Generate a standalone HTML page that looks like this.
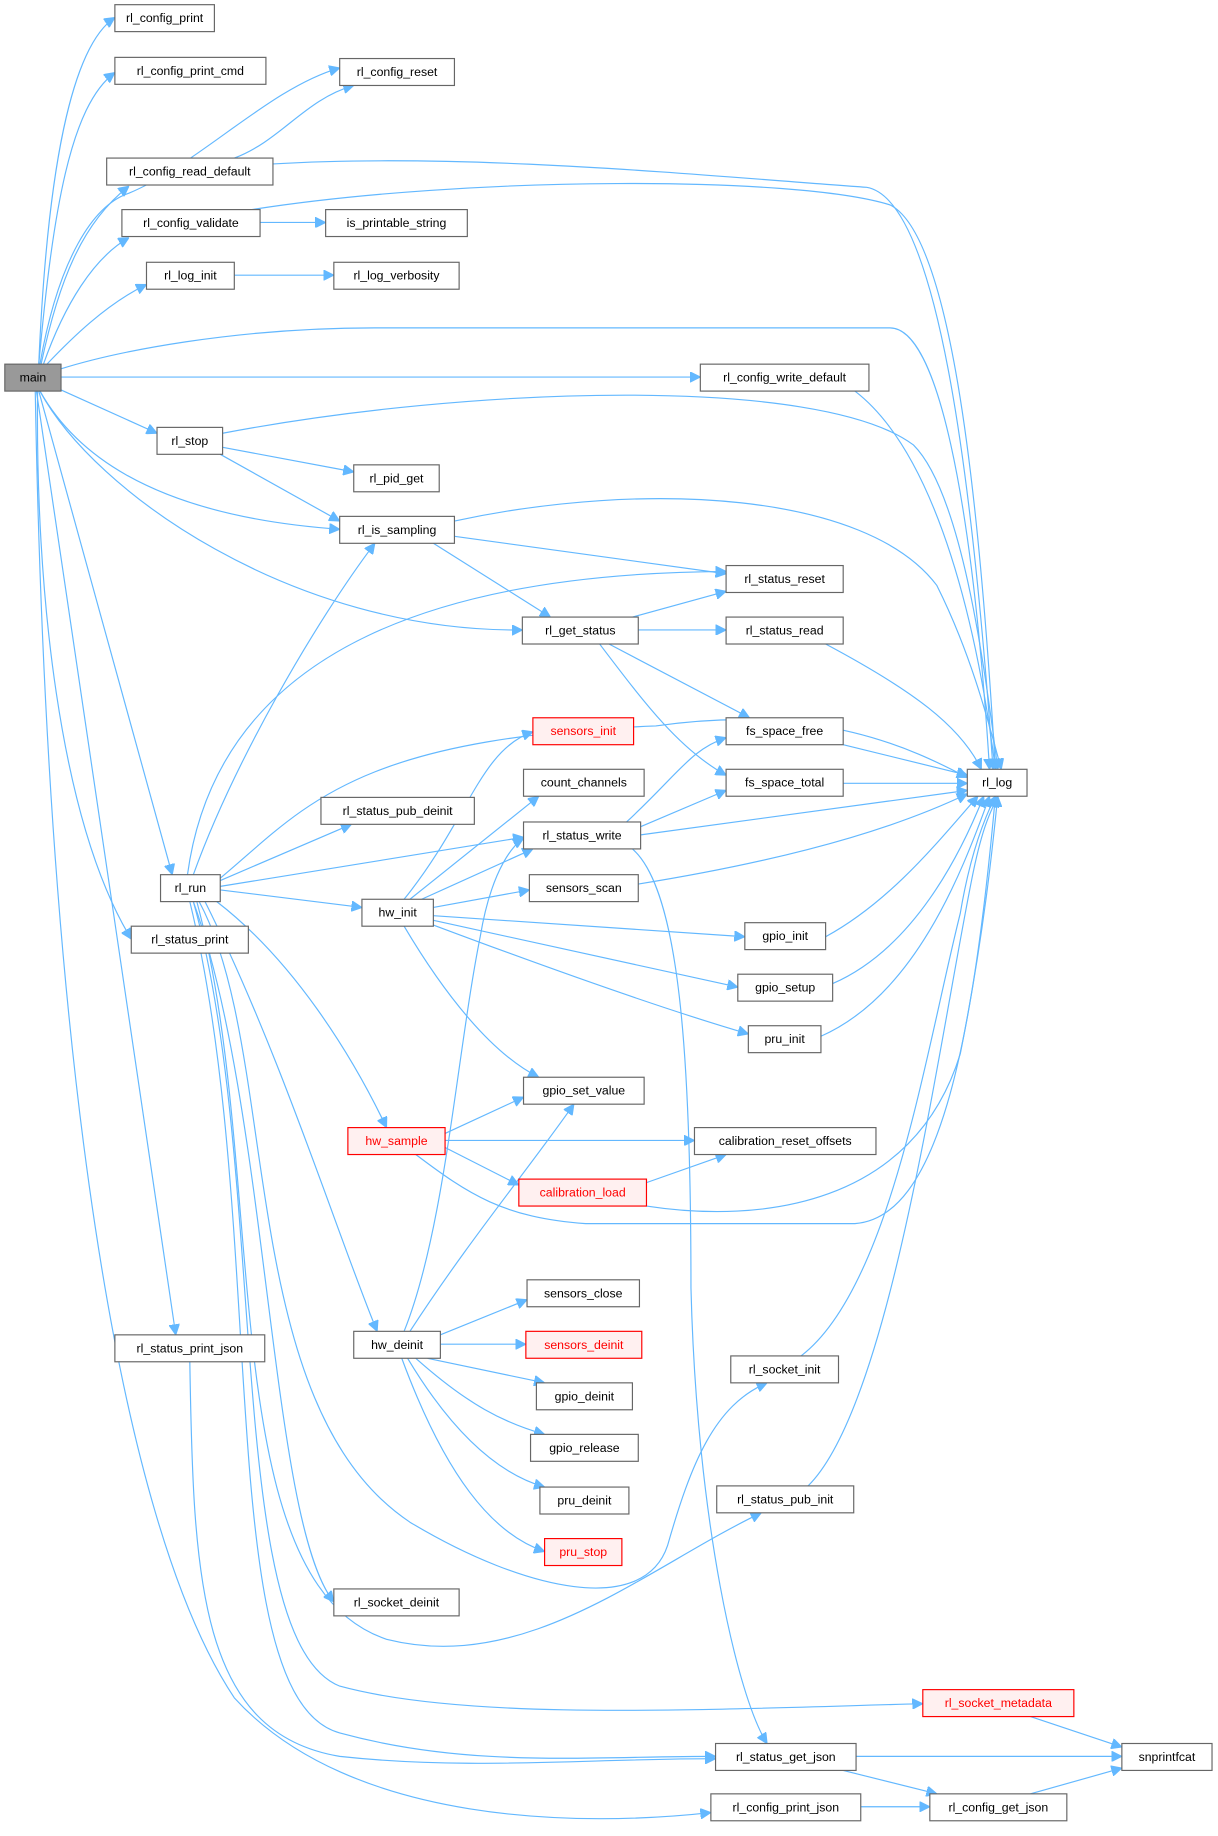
<!DOCTYPE html>
<html><head><meta charset="utf-8"><style>
html,body{margin:0;padding:0;background:#fff}
svg{display:block}
.n rect{fill:#fff;stroke:#666;stroke-width:1}
.r rect{fill:#fff0f0;stroke:#f00;stroke-width:1}
.g rect{fill:#999;stroke:#666;stroke-width:1}
text{font-family:"Liberation Sans","DejaVu Sans",sans-serif;font-size:10.5px;fill:#000;text-anchor:middle;dominant-baseline:central}
.e path{fill:none;stroke:#63b8ff;stroke-width:1;marker-end:url(#a)}
</style></head><body>
<svg width="1218" height="1836" viewBox="0 0 1040 1568" xmlns="http://www.w3.org/2000/svg">
<defs><marker id="a" viewBox="0 0 10 10" refX="10" refY="5" markerWidth="9" markerHeight="9" markerUnits="userSpaceOnUse" orient="auto"><path d="M0,0 L10,5 L0,10 z" fill="#63b8ff" stroke="#63b8ff"/></marker></defs>
<g class="e">
<path d="M33,311 C40,150 60,40 98,15"/>
<path d="M33,311 C45,180 60,90 98,62"/>
<path d="M34,311 C50,220 80,175 110,165 C170,140 230,75 290,58"/>
<path d="M35,311 C50,240 70,190 110,159"/>
<path d="M37,311 C55,260 80,220 110,203"/>
<path d="M40,311 C60,290 90,260 125,243"/>
<path d="M52,315 C100,300 200,280 320,280 L760,280 C800,280 830,420 845,657"/>
<path d="M52,322 L598,322"/>
<path d="M52,333 L134,370"/>
<path d="M34,334 C60,380 120,440 290,452"/>
<path d="M34,334 C80,420 250,540 446,538"/>
<path d="M33,334 L147,747"/>
<path d="M32,334 C30,500 50,700 112,802"/>
<path d="M31,334 L150,1140"/>
<path d="M30,334 C40,900 100,1300 200,1450 C300,1560 500,1560 607,1548"/>
<path d="M200,135 C240,120 260,85 302,73"/>
<path d="M233,140 C400,130 600,150 740,160 C800,170 830,400 848,657"/>
<path d="M215,179 C400,150 680,150 760,175 C810,200 835,400 850,657"/>
<path d="M222,190 L278,190"/>
<path d="M200,235 L285,235"/>
<path d="M730,334 C790,380 830,500 850,657"/>
<path d="M190,370 C400,330 700,320 780,380 C820,420 840,560 852,657"/>
<path d="M190,382 L302,403"/>
<path d="M188,388 L290,445"/>
<path d="M388,445 C550,410 740,420 800,500 C830,560 845,620 855,657"/>
<path d="M388,458 L620,490"/>
<path d="M370,464 L470,527"/>
<path d="M540,527 L620,505"/>
<path d="M545,538 L620,538"/>
<path d="M520,550 L640,613"/>
<path d="M512,550 C550,600 580,640 620,662"/>
<path d="M705,550 C780,590 820,620 838,657"/>
<path d="M165,747 C200,650 270,530 320,464"/>
<path d="M160,747 C180,600 300,490 620,488"/>
<path d="M188,750 C260,690 300,630 560,620 C700,600 780,640 826,664"/>
<path d="M345,768 C400,700 410,640 455,625"/>
<path d="M188,752 L300,704"/>
<path d="M188,757 L447,715"/>
<path d="M188,760 L309,775"/>
<path d="M185,770 C250,820 300,900 330,963"/>
<path d="M175,770 C240,900 290,1060 322,1137"/>
<path d="M165,770 C230,950 230,1300 285,1368"/>
<path d="M170,770 C240,900 200,1200 350,1300 C450,1360 550,1380 570,1320 C590,1250 610,1200 655,1181"/>
<path d="M168,770 C230,1000 180,1350 330,1400 C450,1430 550,1340 650,1292"/>
<path d="M165,770 C230,1000 190,1400 290,1440 C400,1470 600,1460 788,1455"/>
<path d="M162,770 C230,1050 180,1450 290,1480 C400,1510 500,1500 611,1500"/>
<path d="M350,768 L460,680"/>
<path d="M360,768 L455,725"/>
<path d="M370,775 L452,760"/>
<path d="M370,782 L636,800"/>
<path d="M370,786 L630,843"/>
<path d="M370,790 C450,820 560,860 639,883"/>
<path d="M345,791 C380,850 420,900 460,920"/>
<path d="M535,702 C580,660 590,640 620,630"/>
<path d="M547,706 L620,675"/>
<path d="M547,713 L826,675"/>
<path d="M540,725 C580,760 590,900 590,1100 C595,1300 630,1450 655,1489"/>
<path d="M545,755 C700,730 780,700 826,678"/>
<path d="M705,800 C760,770 800,720 835,680"/>
<path d="M711,840 C780,810 820,730 840,680"/>
<path d="M701,885 C780,850 820,750 845,680"/>
<path d="M380,968 L447,937"/>
<path d="M380,974 L593,974"/>
<path d="M380,980 L443,1012"/>
<path d="M355,986 C400,1020 430,1040 500,1045 L730,1045 C800,1040 830,900 850,680"/>
<path d="M552,1010 L620,986"/>
<path d="M552,1030 C650,1045 780,1030 820,900 C840,800 848,720 852,680"/>
<path d="M345,1137 C380,1050 390,900 410,800 C420,740 440,720 447,716"/>
<path d="M350,1137 C400,1060 450,1000 490,943"/>
<path d="M376,1140 L450,1110"/>
<path d="M376,1148 L449,1148"/>
<path d="M365,1160 L465,1181"/>
<path d="M355,1160 C400,1200 430,1215 465,1225"/>
<path d="M348,1160 C390,1230 430,1260 465,1270"/>
<path d="M343,1160 C380,1260 420,1310 465,1325"/>
<path d="M684,1158 C760,1100 790,900 820,780 C830,720 845,690 850,680"/>
<path d="M690,1269 C760,1200 800,900 830,750 C840,700 848,690 852,680"/>
<path d="M162,1163 C165,1350 170,1480 290,1500 C400,1512 500,1502 611,1502"/>
<path d="M880,1466 L958,1492"/>
<path d="M731,1500 L958,1500"/>
<path d="M720,1512 L800,1532"/>
<path d="M735,1543 L794,1543"/>
<path d="M880,1532 L958,1510"/>
<path d="M720,636 L826,662"/>
<path d="M720,669 L826,669"/>
</g>
<g class="g"><rect x="4" y="311" width="48" height="23"/><text x="28" y="322.5">main</text></g>
<g class="n"><rect x="98" y="4" width="85" height="23"/><text x="140.5" y="15.5">rl_config_print</text></g>
<g class="n"><rect x="98" y="49" width="129" height="23"/><text x="162.5" y="60.5">rl_config_print_cmd</text></g>
<g class="n"><rect x="290" y="50" width="98" height="23"/><text x="339" y="61.5">rl_config_reset</text></g>
<g class="n"><rect x="91" y="135" width="142" height="23"/><text x="162" y="146.5">rl_config_read_default</text></g>
<g class="n"><rect x="104" y="179" width="118" height="23"/><text x="163" y="190.5">rl_config_validate</text></g>
<g class="n"><rect x="278" y="179" width="121" height="23"/><text x="338.5" y="190.5">is_printable_string</text></g>
<g class="n"><rect x="125" y="224" width="75" height="23"/><text x="162.5" y="235.5">rl_log_init</text></g>
<g class="n"><rect x="285" y="224" width="107" height="23"/><text x="338.5" y="235.5">rl_log_verbosity</text></g>
<g class="n"><rect x="598" y="311" width="144" height="23"/><text x="670" y="322.5">rl_config_write_default</text></g>
<g class="n"><rect x="134" y="365" width="56" height="23"/><text x="162" y="376.5">rl_stop</text></g>
<g class="n"><rect x="302" y="397" width="73" height="23"/><text x="338.5" y="408.5">rl_pid_get</text></g>
<g class="n"><rect x="290" y="441" width="98" height="23"/><text x="339" y="452.5">rl_is_sampling</text></g>
<g class="n"><rect x="620" y="483" width="100" height="23"/><text x="670" y="494.5">rl_status_reset</text></g>
<g class="n"><rect x="446" y="527" width="99" height="23"/><text x="495.5" y="538.5">rl_get_status</text></g>
<g class="n"><rect x="620" y="527" width="100" height="23"/><text x="670" y="538.5">rl_status_read</text></g>
<g class="r"><rect x="455" y="613" width="86" height="23"/><text x="498" y="624.5" style="fill:#f00">sensors_init</text></g>
<g class="n"><rect x="620" y="613" width="100" height="23"/><text x="670" y="624.5">fs_space_free</text></g>
<g class="n"><rect x="447" y="657" width="103" height="23"/><text x="498.5" y="668.5">count_channels</text></g>
<g class="n"><rect x="620" y="657" width="100" height="23"/><text x="670" y="668.5">fs_space_total</text></g>
<g class="n"><rect x="826" y="657" width="51" height="23"/><text x="851.5" y="668.5">rl_log</text></g>
<g class="n"><rect x="274" y="681" width="131" height="23"/><text x="339.5" y="692.5">rl_status_pub_deinit</text></g>
<g class="n"><rect x="447" y="702" width="100" height="23"/><text x="497" y="713.5">rl_status_write</text></g>
<g class="n"><rect x="137" y="747" width="51" height="23"/><text x="162.5" y="758.5">rl_run</text></g>
<g class="n"><rect x="309" y="768" width="61" height="23"/><text x="339.5" y="779.5">hw_init</text></g>
<g class="n"><rect x="452" y="747" width="93" height="23"/><text x="498.5" y="758.5">sensors_scan</text></g>
<g class="n"><rect x="636" y="788" width="69" height="23"/><text x="670.5" y="799.5">gpio_init</text></g>
<g class="n"><rect x="112" y="791" width="100" height="23"/><text x="162" y="802.5">rl_status_print</text></g>
<g class="n"><rect x="630" y="832" width="81" height="23"/><text x="670.5" y="843.5">gpio_setup</text></g>
<g class="n"><rect x="639" y="876" width="62" height="23"/><text x="670" y="887.5">pru_init</text></g>
<g class="n"><rect x="447" y="920" width="103" height="23"/><text x="498.5" y="931.5">gpio_set_value</text></g>
<g class="r"><rect x="297" y="963" width="83" height="23"/><text x="338.5" y="974.5" style="fill:#f00">hw_sample</text></g>
<g class="n"><rect x="593" y="963" width="155" height="23"/><text x="670.5" y="974.5">calibration_reset_offsets</text></g>
<g class="r"><rect x="443" y="1007" width="109" height="23"/><text x="497.5" y="1018.5" style="fill:#f00">calibration_load</text></g>
<g class="n"><rect x="450" y="1093" width="96" height="23"/><text x="498" y="1104.5">sensors_close</text></g>
<g class="n"><rect x="302" y="1137" width="74" height="23"/><text x="339" y="1148.5">hw_deinit</text></g>
<g class="r"><rect x="449" y="1137" width="99" height="23"/><text x="498.5" y="1148.5" style="fill:#f00">sensors_deinit</text></g>
<g class="n"><rect x="98" y="1140" width="128" height="23"/><text x="162" y="1151.5">rl_status_print_json</text></g>
<g class="n"><rect x="624" y="1158" width="92" height="23"/><text x="670" y="1169.5">rl_socket_init</text></g>
<g class="n"><rect x="458" y="1181" width="82" height="23"/><text x="499" y="1192.5">gpio_deinit</text></g>
<g class="n"><rect x="453" y="1225" width="92" height="23"/><text x="499" y="1236.5">gpio_release</text></g>
<g class="n"><rect x="461" y="1270" width="76" height="23"/><text x="499" y="1281.5">pru_deinit</text></g>
<g class="n"><rect x="612" y="1269" width="117" height="23"/><text x="670.5" y="1280.5">rl_status_pub_init</text></g>
<g class="r"><rect x="465" y="1314" width="66" height="23"/><text x="498" y="1325.5" style="fill:#f00">pru_stop</text></g>
<g class="n"><rect x="285" y="1357" width="107" height="23"/><text x="338.5" y="1368.5">rl_socket_deinit</text></g>
<g class="r"><rect x="788" y="1443" width="129" height="23"/><text x="852.5" y="1454.5" style="fill:#f00">rl_socket_metadata</text></g>
<g class="n"><rect x="611" y="1489" width="120" height="23"/><text x="671" y="1500.5">rl_status_get_json</text></g>
<g class="n"><rect x="958" y="1489" width="77" height="23"/><text x="996.5" y="1500.5">snprintfcat</text></g>
<g class="n"><rect x="607" y="1532" width="128" height="23"/><text x="671" y="1543.5">rl_config_print_json</text></g>
<g class="n"><rect x="794" y="1532" width="117" height="23"/><text x="852.5" y="1543.5">rl_config_get_json</text></g>
</svg>
</body></html>
